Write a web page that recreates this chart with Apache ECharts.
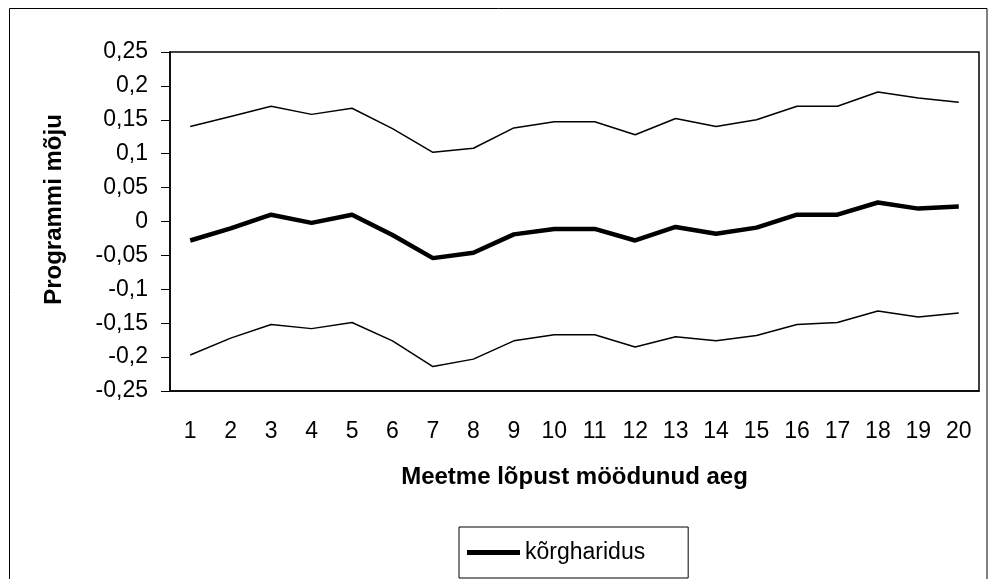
<!DOCTYPE html>
<html>
<head>
<meta charset="utf-8">
<script src="https://cdn.jsdelivr.net/npm/echarts@6/dist/echarts.min.js"></script>
<style>
  html, body { margin: 0; padding: 0; background: #fff; }
  #chart { width: 988px; height: 579px; }
</style>
</head>
<body>
<div id="chart"></div>
<script>
// months after the end of the programme
const periods = ['1', '2', '3', '4', '5', '6', '7', '8', '9', '10', '11', '12', '13', '14', '15', '16', '17', '18', '19', '20']

// estimated effect (kõrgharidus) and its upper / lower bounds
const effect = [-0.028, -0.01, 0.01, -0.002, 0.01, -0.02, -0.054, -0.046, -0.019, -0.011, -0.011, -0.028, -0.008, -0.018, -0.009, 0.01, 0.01, 0.028, 0.019, 0.022]
const upper = [0.14, 0.155, 0.17, 0.158, 0.167, 0.137, 0.102, 0.108, 0.138, 0.147, 0.147, 0.128, 0.152, 0.14, 0.15, 0.17, 0.17, 0.191, 0.182, 0.176]
const lower = [-0.197, -0.172, -0.152, -0.158, -0.149, -0.176, -0.214, -0.203, -0.176, -0.167, -0.167, -0.185, -0.17, -0.176, -0.168, -0.152, -0.149, -0.132, -0.141, -0.135]

const font = "'Liberation Sans', Arial, sans-serif"

const chart = echarts.init(document.getElementById('chart'), null, { renderer: 'canvas' })

chart.setOption({
  backgroundColor: '#fff',
  animation: false,
  textStyle: { fontFamily: font, color: '#000' },
  graphic: [{
    type: 'rect',
    shape: { x: 9.5, y: 8.5, width: 977.5, height: 600 },
    style: { fill: 'none', stroke: '#000', lineWidth: 1 },
    silent: true
  }],
  grid: {
    left: 170,
    right: 9,
    top: 52,
    bottom: 188,
    show: true,
    borderColor: '#000',
    borderWidth: 1.5
  },
  legend: {
    data: ['kõrgharidus'],
    left: 459,
    top: 527,
    icon: 'rect',
    itemWidth: 53,
    itemHeight: 5,
    padding: [14, 43, 14, 8],
    borderColor: '#000',
    borderWidth: 1,
    textStyle: { fontFamily: font, fontSize: 23, color: '#000' }
  },
  xAxis: {
    type: 'category',
    data: periods,
    boundaryGap: true,
    name: 'Meetme lõpust möödunud aeg',
    nameLocation: 'middle',
    nameGap: 74,
    nameMoveOverlap: false,
    nameTextStyle: { fontFamily: font, fontSize: 24, fontWeight: 'bold', color: '#000' },
    axisLine: { onZero: false, lineStyle: { color: '#000', width: 1.5 } },
    axisTick: { alignWithLabel: false, length: 8, lineStyle: { color: '#000', width: 1 } },
    axisLabel: { margin: 29, fontFamily: font, fontSize: 23, color: '#000' },
    splitLine: { show: false }
  },
  yAxis: {
    type: 'value',
    min: -0.25,
    max: 0.25,
    interval: 0.05,
    name: 'Programmi mõju',
    nameLocation: 'middle',
    nameGap: 104,
    nameMoveOverlap: false,
    nameTextStyle: { fontFamily: font, fontSize: 24, fontWeight: 'bold', color: '#000', padding: [0, 0, 0, 24] },
    axisLine: { show: true, lineStyle: { color: '#000', width: 1.5 } },
    axisTick: { show: true, length: 9, lineStyle: { color: '#000', width: 1 } },
    axisLabel: {
      margin: 22,
      fontFamily: font,
      fontSize: 23,
      color: '#000',
      formatter: v => String(Math.round(v * 100) / 100).replace('.', ',')
    },
    splitLine: { show: false }
  },
  series: [
    {
      name: 'ülempiir',
      type: 'line',
      data: upper,
      symbol: 'none',
      lineStyle: { color: '#000', width: 1.5 },
      itemStyle: { color: '#000' }
    },
    {
      name: 'kõrgharidus',
      type: 'line',
      data: effect,
      symbol: 'none',
      lineStyle: { color: '#000', width: 4.5 },
      itemStyle: { color: '#000' }
    },
    {
      name: 'alampiir',
      type: 'line',
      data: lower,
      symbol: 'none',
      lineStyle: { color: '#000', width: 1.5 },
      itemStyle: { color: '#000' }
    }
  ]
})
</script>
</body>
</html>
